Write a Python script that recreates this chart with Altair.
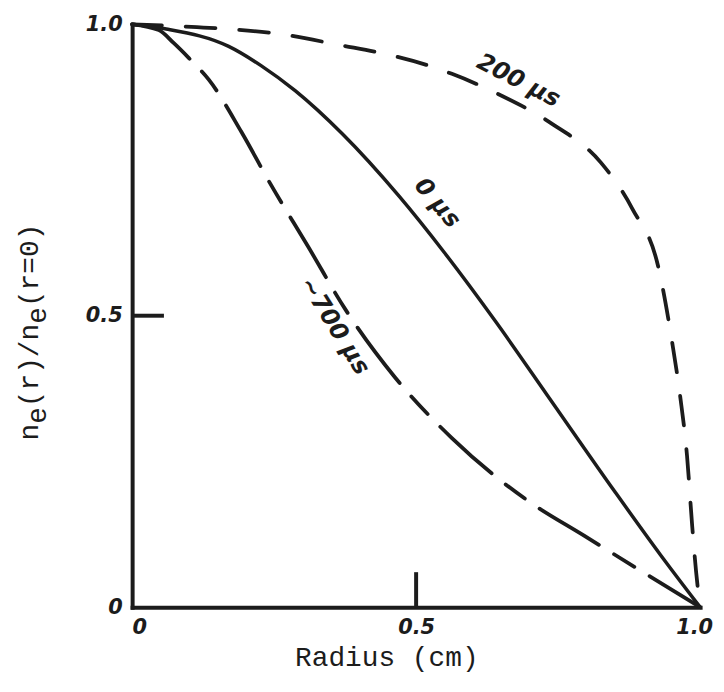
import altair as alt
import pandas as pd

INK = "#1c1c1c"

# ---- data (radius in cm, normalised density) ----
radius_0us = [0.0, 0.06, 0.17, 0.227, 0.287, 0.37, 0.47, 0.55, 0.64, 0.73, 0.85, 0.93, 1.0]
ne_0us = [1.0, 0.992, 0.962, 0.929, 0.886, 0.812, 0.705, 0.608, 0.490, 0.365, 0.198, 0.090, 0.0]

radius_200us = [0.0, 0.114, 0.182, 0.262, 0.367, 0.446, 0.519, 0.563, 0.643, 0.738,
                0.825, 0.881, 0.927, 0.951, 0.965, 0.977, 0.986, 0.993, 1.0]
ne_200us = [1.0, 0.995, 0.991, 0.983, 0.964, 0.949, 0.930, 0.915, 0.881, 0.830,
            0.763, 0.683, 0.581, 0.453, 0.361, 0.259, 0.140, 0.060, 0.0]

radius_700us = [0.0, 0.047, 0.073, 0.10, 0.135, 0.192, 0.243, 0.309, 0.376, 0.463,
                0.563, 0.699, 0.795, 0.913, 1.0]
ne_700us = [1.0, 0.990, 0.968, 0.942, 0.905, 0.816, 0.727, 0.620, 0.510, 0.394,
            0.290, 0.181, 0.123, 0.052, 0.0]

tick_values = [0, 0.5, 1.0]

curve_labels = ["200 µs", "0 µs", "~700 µs"]
label_r = [0.680, 0.537, 0.356]
label_n = [0.903, 0.693, 0.482]
label_angle = [27, 50, 58]

df0 = pd.DataFrame({"r": radius_0us, "n": ne_0us})
df200 = pd.DataFrame({"r": radius_200us, "n": ne_200us})
df700 = pd.DataFrame({"r": radius_700us, "n": ne_700us})

label_expr = "datum.value == 0 ? '0' : format(datum.value, '.1f')"

x_axis = alt.Axis(
    values=tick_values, labelExpr=label_expr, ticks=False, grid=False,
    domainWidth=4, domainColor=INK, domainCap="square",
    labelFont="DejaVu Sans", labelFontStyle="italic", labelFontWeight="bold",
    labelFontSize=21, labelColor=INK, labelPadding=10,
    labelAlign={"condition": {"test": "datum.value == 0", "value": "left"}, "value": "center"},
    labelOffset={"condition": {"test": "datum.value == 1", "value": -6},
                 "value": 0},
    title="Radius (cm)", titleFont="Liberation Mono", titleFontSize=28,
    titleFontWeight="normal", titleColor=INK, titleX=256, titleY=59,
    titleBaseline="alphabetic", titleAlign="center",
)
y_axis = alt.Axis(
    values=tick_values, labelExpr=label_expr, ticks=False, grid=False,
    domainWidth=4, domainColor=INK, domainCap="square",
    labelFont="DejaVu Sans", labelFontStyle="italic", labelFontWeight="bold",
    labelFontSize=21, labelColor=INK, labelPadding=10, title=None,
)

xs = alt.Scale(domain=[0, 1], nice=False, zero=False)
ys = alt.Scale(domain=[0, 1], nice=False, zero=False)


def enc(chart):
    return chart.encode(
        x=alt.X("r:Q", scale=xs, axis=x_axis),
        y=alt.Y("n:Q", scale=ys, axis=y_axis),
    )


line_0 = enc(alt.Chart(df0).mark_line(
    color=INK, strokeWidth=3.5, interpolate="monotone", strokeCap="round"))
line_200 = enc(alt.Chart(df200).mark_line(
    color=INK, strokeWidth=3.8, interpolate="monotone", strokeCap="round",
    strokeDash=[30, 24]))
line_700 = enc(alt.Chart(df700).mark_line(
    color=INK, strokeWidth=3.8, interpolate="monotone", strokeCap="round",
    strokeDash=[70, 18, 24, 18]))

# inner tick marks at 0.5
ticks_df = pd.DataFrame({"r": [0.0, 0.5], "r2": [0.056, 0.5],
                         "n": [0.5, 0.0], "n2": [0.5, 0.06]})
inner_ticks = alt.Chart(ticks_df).mark_rule(color=INK, strokeWidth=4).encode(
    x=alt.X("r:Q", scale=xs, axis=x_axis), x2="r2:Q",
    y=alt.Y("n:Q", scale=ys, axis=y_axis), y2="n2:Q",
)

texts = []
for lab, rr, nn, ang in zip(curve_labels, label_r, label_n, label_angle):
    d = pd.DataFrame({"r": [rr], "n": [nn], "label": [lab]})
    texts.append(alt.Chart(d).mark_text(
        angle=ang, font="DejaVu Sans", fontStyle="italic", fontWeight="bold",
        fontSize=24, color=INK, align="center", baseline="middle",
    ).encode(x=alt.X("r:Q", scale=xs, axis=x_axis),
             y=alt.Y("n:Q", scale=ys, axis=y_axis), text="label:N"))

# y-axis title "n_e(r)/n_e(r=0)" in monospace: main string plus two lowered "e"
NB = "\u00a0"
TITLE_FS = 28
CHAR_W = 0.6 * TITLE_FS
main_str = "n" + NB + "(r)/n" + NB + "(r=0)"
title_start_y = 310 + len(main_str) * CHAR_W / 2   # text reads bottom-to-top
ytitle_main = alt.Chart(pd.DataFrame({"t": [main_str]})).mark_text(
    angle=270, font="Liberation Mono", fontSize=TITLE_FS, color=INK,
    align="left", baseline="middle",
).encode(x=alt.value(-103), y=alt.value(title_start_y), text="t:N")
ytitle_subs = []
for idx in [1, 7]:
    ytitle_subs.append(alt.Chart(pd.DataFrame({"t": ["e"]})).mark_text(
        angle=270, font="Liberation Mono", fontSize=TITLE_FS, color=INK,
        align="left", baseline="middle", dx=idx * CHAR_W, dy=8,
    ).encode(x=alt.value(-103), y=alt.value(title_start_y), text="t:N"))

chart = alt.layer(
    line_200, line_700, line_0, inner_ticks, *texts, ytitle_main, *ytitle_subs
).properties(
    width=572, height=587,
    padding={"left": 125, "top": 14, "right": 16, "bottom": 75},
    autosize=alt.AutoSizeParams(type="none"),
    background="white",
).configure_view(stroke=None)

chart.save("out.html", embed_options={"renderer": "svg", "actions": False})
